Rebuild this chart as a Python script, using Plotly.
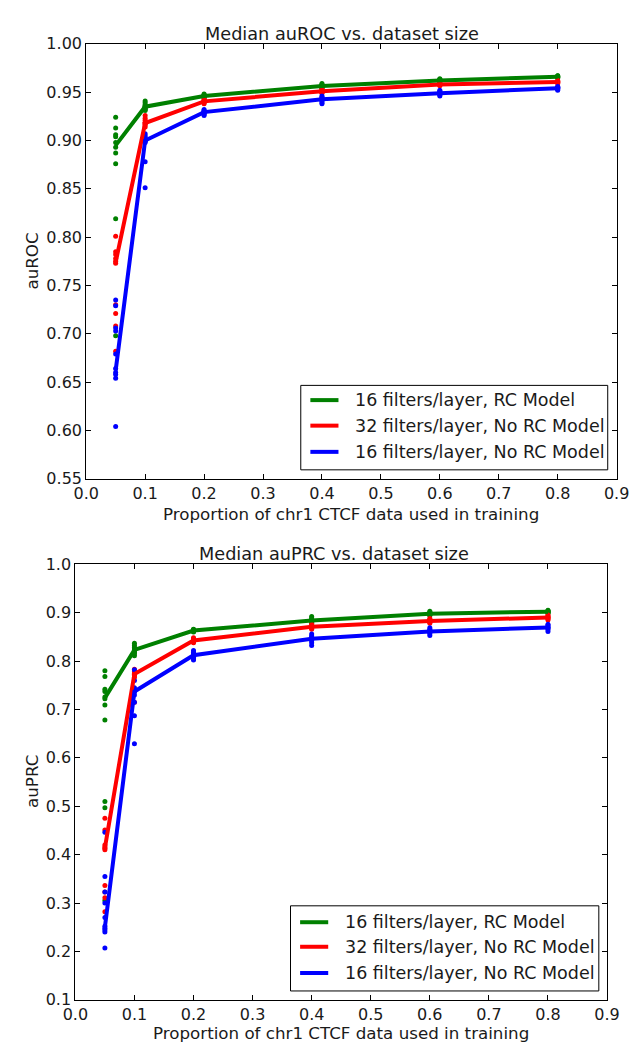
import plotly.graph_objects as go

# Training-set proportions (fraction of chr1 CTCF data)
proportions = [0.05, 0.1, 0.2, 0.4, 0.6, 0.8]

series_names = [
    "16 filters/layer, RC Model",
    "32 filters/layer, No RC Model",
    "16 filters/layer, No RC Model",
]
series_colors = ["#008000", "#ff0000", "#0000ff"]

# ---- auROC ----
auroc_median_rc16 = [0.895, 0.935, 0.946, 0.9565, 0.962, 0.966]
auroc_median_norc32 = [0.774, 0.918, 0.9405, 0.951, 0.958, 0.9606]
auroc_median_norc16 = [0.662, 0.900, 0.9294, 0.9426, 0.949, 0.954]

auroc_runs_rc16 = [
    [0.924, 0.913, 0.906, 0.904, 0.898, 0.893, 0.887, 0.876, 0.819, 0.698],
    [0.941, 0.939, 0.937, 0.936, 0.935, 0.935, 0.934, 0.933, 0.932, 0.931],
    [0.948, 0.947, 0.947, 0.946, 0.946, 0.946, 0.945, 0.945, 0.944],
    [0.959, 0.958, 0.957, 0.957, 0.956, 0.956, 0.955, 0.955, 0.954],
    [0.964, 0.963, 0.963, 0.962, 0.962, 0.962, 0.961, 0.961],
    [0.967, 0.967, 0.966, 0.966, 0.966, 0.965, 0.965],
]
auroc_runs_norc32 = [
    [0.801, 0.785, 0.782, 0.778, 0.775, 0.773, 0.730, 0.721, 0.708, 0.682],
    [0.926, 0.923, 0.921, 0.919, 0.918, 0.918, 0.917, 0.916, 0.914],
    [0.943, 0.942, 0.941, 0.941, 0.940, 0.940, 0.939, 0.938],
    [0.953, 0.952, 0.951, 0.951, 0.950, 0.950, 0.949],
    [0.959, 0.959, 0.958, 0.958, 0.957, 0.957],
    [0.962, 0.961, 0.961, 0.960, 0.960, 0.959],
]
auroc_runs_norc16 = [
    [0.735, 0.729, 0.706, 0.703, 0.679, 0.664, 0.660, 0.658, 0.654, 0.604],
    [0.907, 0.905, 0.903, 0.901, 0.900, 0.900, 0.899, 0.898, 0.878, 0.851],
    [0.932, 0.931, 0.930, 0.930, 0.929, 0.928, 0.927, 0.926],
    [0.946, 0.945, 0.944, 0.943, 0.942, 0.942, 0.941, 0.939, 0.938],
    [0.952, 0.951, 0.950, 0.949, 0.949, 0.948, 0.947, 0.946],
    [0.956, 0.955, 0.955, 0.954, 0.954, 0.953, 0.952],
]

# ---- auPRC ----
auprc_median_rc16 = [0.724, 0.823, 0.863, 0.884, 0.898, 0.902]
auprc_median_norc32 = [0.414, 0.773, 0.8425, 0.871, 0.883, 0.890]
auprc_median_norc16 = [0.250, 0.737, 0.812, 0.846, 0.861, 0.8695]

auprc_runs_rc16 = [
    [0.780, 0.768, 0.742, 0.737, 0.726, 0.722, 0.709, 0.678, 0.510, 0.497, 0.305],
    [0.837, 0.832, 0.828, 0.825, 0.823, 0.822, 0.818, 0.815, 0.811],
    [0.866, 0.865, 0.864, 0.863, 0.862, 0.861, 0.860],
    [0.892, 0.889, 0.886, 0.885, 0.884, 0.882, 0.880, 0.878],
    [0.903, 0.901, 0.899, 0.898, 0.897, 0.895, 0.894],
    [0.905, 0.904, 0.903, 0.902, 0.901, 0.900, 0.899],
]
auprc_runs_norc32 = [
    [0.475, 0.451, 0.420, 0.416, 0.413, 0.410, 0.336, 0.323, 0.311, 0.282],
    [0.783, 0.778, 0.775, 0.773, 0.772, 0.770, 0.766, 0.715],
    [0.848, 0.846, 0.844, 0.843, 0.842, 0.840, 0.838],
    [0.876, 0.874, 0.872, 0.871, 0.870, 0.868, 0.866],
    [0.888, 0.886, 0.884, 0.883, 0.882, 0.880, 0.878],
    [0.895, 0.893, 0.891, 0.890, 0.889, 0.887, 0.885],
]
auprc_runs_norc16 = [
    [0.446, 0.355, 0.323, 0.300, 0.270, 0.252, 0.248, 0.244, 0.240, 0.207],
    [0.782, 0.760, 0.745, 0.740, 0.738, 0.736, 0.730, 0.715, 0.687, 0.629],
    [0.822, 0.818, 0.815, 0.813, 0.811, 0.808, 0.805, 0.802],
    [0.856, 0.852, 0.849, 0.847, 0.845, 0.842, 0.838, 0.832],
    [0.869, 0.866, 0.863, 0.861, 0.860, 0.857, 0.853],
    [0.876, 0.874, 0.871, 0.870, 0.868, 0.865, 0.861],
]

auroc_ticks = [0.55, 0.60, 0.65, 0.70, 0.75, 0.80, 0.85, 0.90, 0.95, 1.00]
auprc_ticks = [0.1, 0.2, 0.3, 0.4, 0.5, 0.6, 0.7, 0.8, 0.9, 1.0]
x_ticks = [0.0, 0.1, 0.2, 0.3, 0.4, 0.5, 0.6, 0.7, 0.8, 0.9]

W, H = 638, 1053
FONT = "DejaVu Sans"


def px(x):
    return x / W


def py(y):
    return 1 - y / H


fig = go.Figure()

panels = [
    dict(xa="x", ya="y",
         medians=[auroc_median_rc16, auroc_median_norc32, auroc_median_norc16],
         runs=[auroc_runs_rc16, auroc_runs_norc32, auroc_runs_norc16]),
    dict(xa="x2", ya="y2",
         medians=[auprc_median_rc16, auprc_median_norc32, auprc_median_norc16],
         runs=[auprc_runs_rc16, auprc_runs_norc32, auprc_runs_norc16]),
]

for p in panels:
    # individual runs as small dots
    for runs, color in zip(p["runs"], series_colors):
        xs, ys = [], []
        for xv, vals in zip(proportions, runs):
            xs += [xv] * len(vals)
            ys += vals
        fig.add_trace(go.Scatter(
            x=xs, y=ys, mode="markers", xaxis=p["xa"], yaxis=p["ya"],
            marker=dict(color=color, size=5, line=dict(width=0)),
            showlegend=False, hoverinfo="skip"))
    # median curves
    for med, color, name in zip(p["medians"], series_colors, series_names):
        fig.add_trace(go.Scatter(
            x=proportions, y=med, mode="lines", xaxis=p["xa"], yaxis=p["ya"],
            line=dict(color=color, width=4), name=name, showlegend=False))

axis_common = dict(
    showgrid=False, zeroline=False, showline=True, linecolor="#000000",
    linewidth=1, mirror="ticks", ticks="inside", ticklen=5, tickwidth=1,
    tickcolor="#000000", tickfont=dict(family=FONT, size=16, color="#1a1a1a"),
)

top_dom_x = [px(76.3), px(629.3)]
top_dom_y = [py(478.4), py(35.5)]
bot_dom_x = [px(65), px(619.3)]
bot_dom_y = [py(1009.0), py(565.5)]

fig.update_layout(
    width=W, height=H,
    margin=dict(l=0, r=0, t=0, b=0),
    paper_bgcolor="white", plot_bgcolor="white",
    font=dict(family=FONT, color="#1a1a1a"),
    showlegend=False,
    xaxis=dict(domain=top_dom_x, anchor="y", range=[0, 0.9],
               tickvals=x_ticks, tickformat=".1f", **axis_common),
    yaxis=dict(domain=top_dom_y, anchor="x", range=[0.55, 1.0],
               tickvals=auroc_ticks, tickformat=".2f", **axis_common),
    xaxis2=dict(domain=bot_dom_x, anchor="y2", range=[0, 0.9],
                tickvals=x_ticks, tickformat=".1f", **axis_common),
    yaxis2=dict(domain=bot_dom_y, anchor="x2", range=[0.1, 1.0],
                tickvals=auprc_ticks, tickformat=".1f", **axis_common),
)

annotations = []
shapes = []


def text(x, y, s, size, angle=0, xanchor="center"):
    annotations.append(dict(
        x=px(x), y=py(y), xref="paper", yref="paper", text=s, showarrow=False,
        font=dict(family=FONT, size=size, color="#1a1a1a"),
        xanchor=xanchor, yanchor="middle", textangle=angle))


# titles and axis labels
text((76.3 + 629.3) / 2 - 10, 25, "Median auROC vs. dataset size", 17.7)
text((76.3 + 629.3) / 2, 514, "Proportion of chr1 CTCF data used in training", 16.7)
text(20, 257, "auROC", 16.7, angle=-90)
text((65 + 619.3) / 2 - 7, 555, "Median auPRC vs. dataset size", 17.7)
text((65 + 619.3) / 2, 1043, "Proportion of chr1 CTCF data used in training", 16.7)
text(20, 787, "auPRC", 16.7, angle=-90)


def legend_box(left, top, right, bottom, rows_y, line_x0, line_x1, text_x):
    shapes.append(dict(
        type="rect", xref="paper", yref="paper",
        x0=px(left), x1=px(right), y0=py(bottom), y1=py(top),
        line=dict(color="#000000", width=1), fillcolor="white", layer="above"))
    for ry, color, name in zip(rows_y, series_colors, series_names):
        shapes.append(dict(
            type="line", xref="paper", yref="paper",
            x0=px(line_x0), x1=px(line_x1), y0=py(ry), y1=py(ry),
            line=dict(color=color, width=4), layer="above"))
        text(text_x, ry, name, 17.5, xanchor="left")


legend_box(300, 383.3, 620, 469.3, [398.3, 424.3, 451.0], 310, 339.3, 354.5)
legend_box(289.3, 913.3, 610.7, 1000, [930.0, 955.0, 981.7], 299.3, 328.6, 344.5)

fig.update_layout(annotations=annotations, shapes=shapes)

fig.write_html("out.html")
